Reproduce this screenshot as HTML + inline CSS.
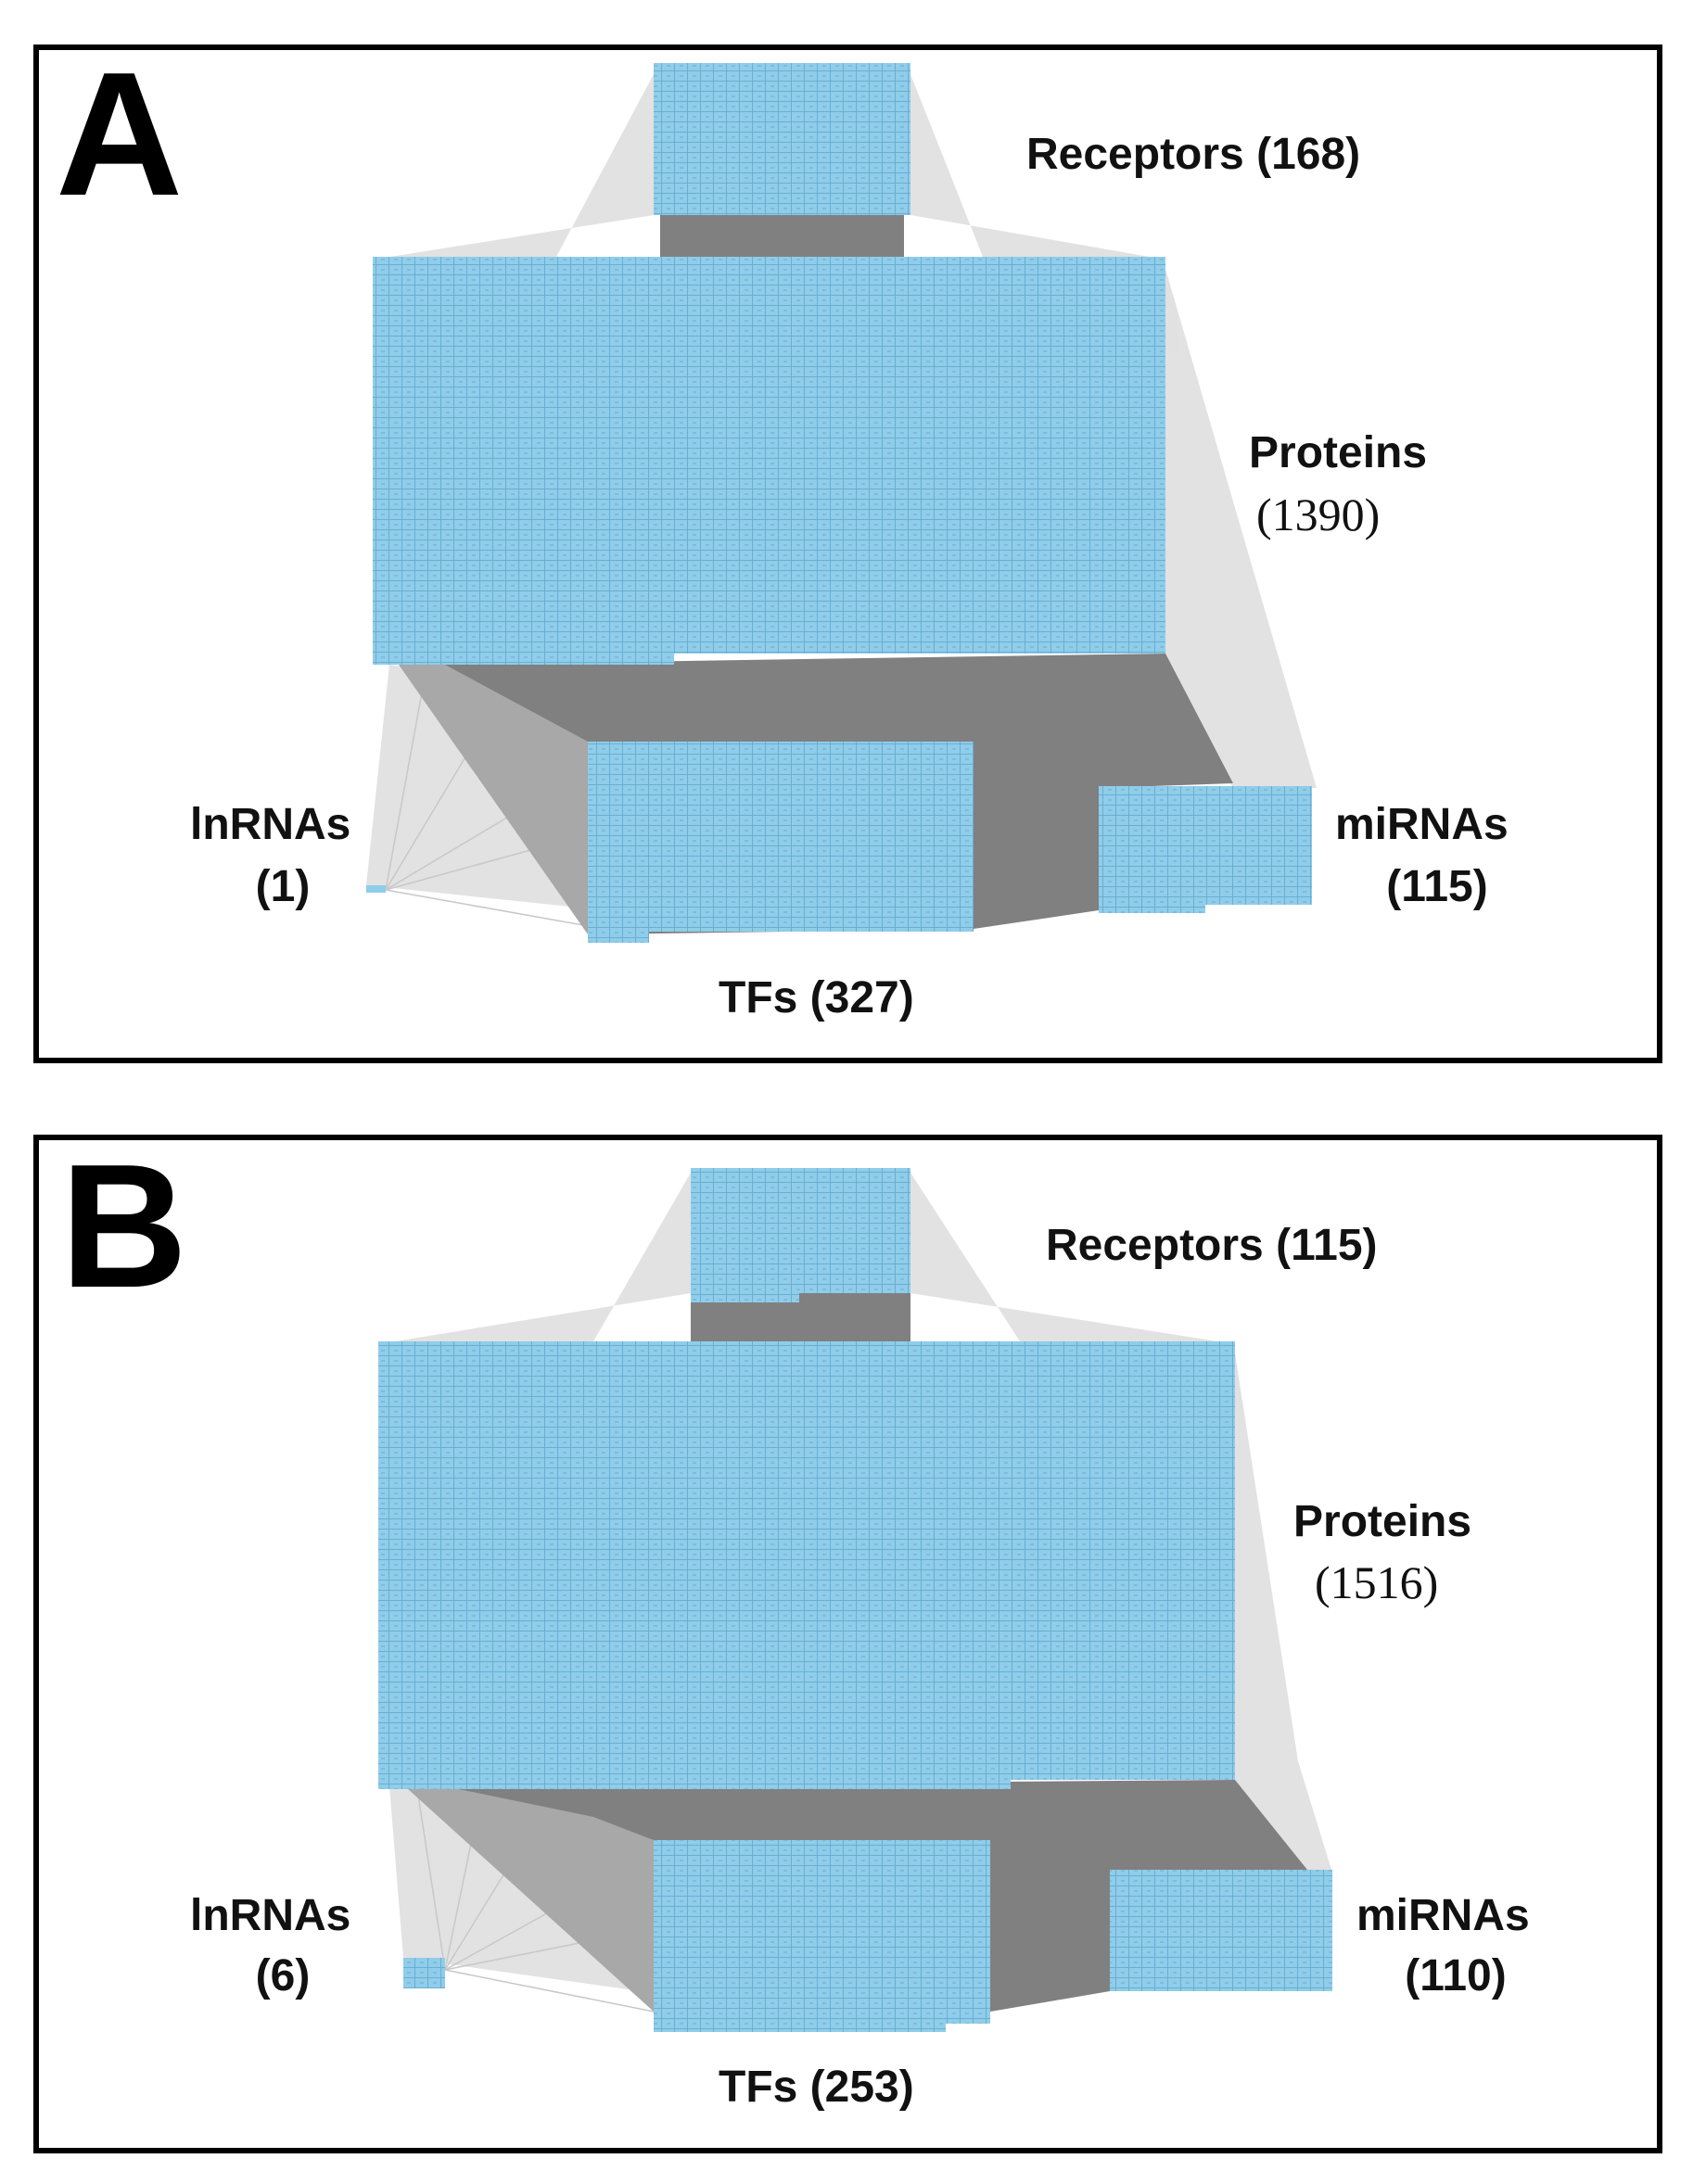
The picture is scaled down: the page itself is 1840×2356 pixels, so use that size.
<!DOCTYPE html>
<html><head><meta charset="utf-8"><style>
html,body{margin:0;padding:0;background:#fff}
svg{display:block}
.l{font-family:"Liberation Sans",Arial,sans-serif;font-weight:bold;font-size:48px;fill:#111}
.s{font-family:"Liberation Serif",serif;font-size:50px;fill:#111}
.big{font-family:"Liberation Sans",Arial,sans-serif;font-weight:bold;font-size:190px;fill:#000}
</style></head><body>
<svg width="1840" height="2356" viewBox="0 0 1840 2356" xmlns="http://www.w3.org/2000/svg">
<defs>
<pattern id="g" width="14" height="11" patternUnits="userSpaceOnUse">
<rect width="14" height="11" fill="#8fcdea"/>
<path d="M0 10.5H14M13.5 0V11" stroke="#6aaed2" stroke-width="1"/>
<rect x="5" y="4" width="4" height="2" fill="#7fbcdc"/>
</pattern>
</defs>
<rect x="0" y="0" width="1840" height="2356" fill="#fff"/>

<!-- PANEL A -->
<rect x="39" y="51" width="1751" height="1093" fill="none" stroke="#000" stroke-width="6"/>
<text class="big" x="60" y="210">A</text>
<g fill="#d8d8d8" opacity="0.75">
<polygon points="705,80 705,232 402,280 600,277"/>
<polygon points="982,80 982,232 1257,280 1060,277"/>
<polygon points="1257,290 1257,717 1330,850 1420,850"/>
<polygon points="420,717 395,955 634,980 520,730"/>
</g>
<g stroke="#c8c8c8" stroke-width="1.5">
<line x1="416" y1="960" x2="460" y2="720"/><line x1="416" y1="960" x2="634" y2="830"/>
<line x1="416" y1="960" x2="634" y2="900"/><line x1="416" y1="960" x2="640" y2="1000"/>
<line x1="416" y1="960" x2="560" y2="720"/>
</g>
<polygon points="430,717 600,717 634,800 634,1008" fill="#a8a8a8"/>
<rect x="712" y="232" width="263" height="46" fill="#808080"/>
<polygon points="480,717 1257,705 1330,845 1185,850 1185,982 1050,1002 640,1008 634,800" fill="#808080"/>
<rect x="705" y="68" width="277" height="164" fill="url(#g)"/>
<path d="M402 277H1257V705H727V717H402Z" fill="url(#g)"/>
<rect x="634" y="800" width="416" height="205" fill="url(#g)"/>
<rect x="634" y="1000" width="66" height="17" fill="url(#g)"/>
<rect x="1185" y="848" width="115" height="137" fill="url(#g)"/>
<rect x="1298" y="848" width="117" height="128" fill="url(#g)"/>
<rect x="395" y="955" width="21" height="8" fill="#8fcdea"/>
<text class="l" x="1107" y="182">Receptors (168)</text>
<text class="l" x="1347" y="504">Proteins</text>
<text class="s" x="1355" y="572">(1390)</text>
<text class="l" x="205" y="905">lnRNAs</text>
<text class="l" x="305" y="972" text-anchor="middle">(1)</text>
<text class="l" x="1440" y="905">miRNAs</text>
<text class="l" x="1550" y="972" text-anchor="middle">(115)</text>
<text class="l" x="775" y="1092">TFs (327)</text>

<!-- PANEL B -->
<rect x="39" y="1227" width="1751" height="1093" fill="none" stroke="#000" stroke-width="6"/>
<text class="big" x="65" y="1388">B</text>
<g fill="#d8d8d8" opacity="0.75">
<polygon points="745,1265 745,1395 408,1450 640,1447"/>
<polygon points="982,1265 982,1395 1332,1450 1100,1447"/>
<polygon points="1332,1460 1332,1927 1380,2017 1437,2020 1400,1900"/>
<polygon points="420,1927 435,2112 705,2150 560,1940"/>
</g>
<g stroke="#c8c8c8" stroke-width="1.5">
<line x1="480" y1="2125" x2="450" y2="1930"/><line x1="480" y1="2125" x2="705" y2="2000"/>
<line x1="480" y1="2125" x2="705" y2="2080"/><line x1="480" y1="2125" x2="705" y2="2170"/>
<line x1="480" y1="2125" x2="600" y2="1930"/><line x1="480" y1="2125" x2="520" y2="1930"/>
</g>
<polygon points="440,1930 620,1930 705,1985 705,2170" fill="#a8a8a8"/>
<rect x="745" y="1395" width="237" height="54" fill="#808080"/>
<polygon points="480,1927 1332,1920 1410,2017 1197,2017 1197,2148 1068,2170 705,2170 705,1985 640,1960" fill="#808080"/>
<path d="M745 1260H982V1395H862V1405H745Z" fill="url(#g)"/>
<path d="M408 1447H1332V1920H1090V1930H408Z" fill="url(#g)"/>
<rect x="705" y="1985" width="363" height="198" fill="url(#g)"/>
<rect x="705" y="2180" width="315" height="12" fill="url(#g)"/>
<rect x="1197" y="2017" width="240" height="131" fill="url(#g)"/>
<rect x="435" y="2112" width="45" height="33" fill="url(#g)"/>
<text class="l" x="1128" y="1359">Receptors (115)</text>
<text class="l" x="1395" y="1657">Proteins</text>
<text class="s" x="1418" y="1724">(1516)</text>
<text class="l" x="205" y="2082">lnRNAs</text>
<text class="l" x="305" y="2147" text-anchor="middle">(6)</text>
<text class="l" x="1463" y="2082">miRNAs</text>
<text class="l" x="1570" y="2147" text-anchor="middle">(110)</text>
<text class="l" x="775" y="2267">TFs (253)</text>
</svg>
</body></html>
